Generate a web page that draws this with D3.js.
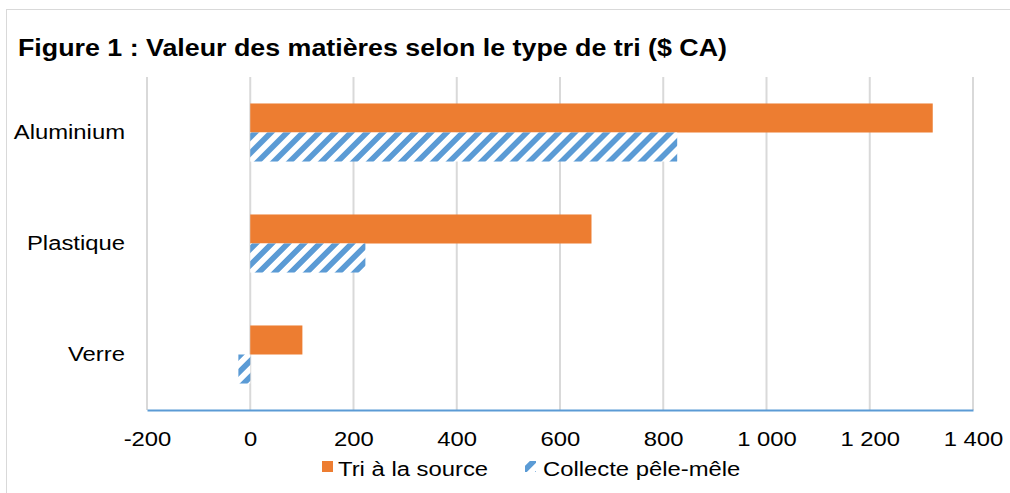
<!DOCTYPE html>
<html>
<head>
<meta charset="utf-8">
<script src="https://cdn.jsdelivr.net/npm/d3@7"></script>
<style>
  html, body { margin: 0; padding: 0; background: #fff; }
  svg { display: block; font-family: "Liberation Sans", Arial, sans-serif; }
</style>
</head>
<body>
<svg id="chart" width="1010" height="493"></svg>
<script>
const categories = ["Aluminium", "Plastique", "Verre"];
const seriesNames = ["Tri à la source", "Collecte pêle-mêle"];
const triSource = [1322, 661, 101];
const collecte = [827, 223, -23];
const tickValues = [-200, 0, 200, 400, 600, 800, 1000, 1200, 1400];
const tickLabels = ["-200", "0", "200", "400", "600", "800", "1 000", "1 200", "1 400"];
const titleText = "Figure 1 : Valeur des matières selon le type de tri ($ CA)";

const svg = d3.select("#chart");
const orange = "#ed7d31", blue = "#5b9bd5";
const FS = 21, SX = 1.135;
const FF = "Liberation Sans, Arial, sans-serif";

// hatch pattern
const defs = svg.append("defs");
const pat = defs.append("pattern")
  .attr("id", "hatch").attr("patternUnits", "userSpaceOnUse")
  .attr("width", 11.3).attr("height", 11.3)
  .attr("patternTransform", "rotate(45)");
pat.append("rect").attr("width", 11.3).attr("height", 11.3).attr("fill", "#fff");
pat.append("rect").attr("x", 0).attr("width", 5.65).attr("height", 11.3).attr("fill", blue);

// outer border
svg.append("rect").attr("x", 6.5).attr("y", 9.5).attr("width", 1010).attr("height", 500)
  .attr("fill", "none").attr("stroke", "#d9d9d9").attr("stroke-width", 1);

const x = d3.scaleLinear().domain([-200, 1400]).range([147, 973]);
const y = d3.scaleBand().domain(categories).range([77, 410]).paddingInner(0.477).paddingOuter(0.2385);
const sub = d3.scaleBand().domain(seriesNames).range([0, y.bandwidth()]);

// gridlines
svg.append("g").selectAll("line").data(tickValues).join("line")
  .attr("x1", d => x(d)).attr("x2", d => x(d))
  .attr("y1", 77).attr("y2", 410)
  .attr("stroke", "#d9d9d9").attr("stroke-width", 2);

// bars
const data = categories.map((c, i) => ({ c, vals: [triSource[i], collecte[i]] }));
const g = svg.append("g");
data.forEach(d => {
  d.vals.forEach((v, j) => {
    g.append("rect")
      .attr("x", x(Math.min(0, v)))
      .attr("y", y(d.c) + sub(seriesNames[j]))
      .attr("width", Math.abs(x(v) - x(0)))
      .attr("height", sub.bandwidth())
      .attr("fill", j === 0 ? orange : "url(#hatch)");
  });
});

// x axis
const xAxis = d3.axisBottom(x).tickValues(tickValues)
  .tickFormat((d, i) => tickLabels[i]).tickSize(0).tickPadding(0);
const ax = svg.append("g").attr("transform", "translate(0,410)").call(xAxis);
ax.select(".domain").attr("stroke", blue).attr("stroke-width", 2);
ax.selectAll("text").attr("font-size", FS).attr("fill", "#000").attr("font-family", FF)
  .attr("y", 0).attr("dy", 0)
  .attr("transform", `translate(0,36) scale(${SX},1)`);

// y axis labels
const yAxis = d3.axisLeft(y).tickSize(0).tickPadding(0);
const ay = svg.append("g").attr("transform", "translate(125,0)").call(yAxis);
ay.select(".domain").remove();
ay.selectAll("text").attr("font-size", FS).attr("fill", "#000").attr("font-family", FF)
  .attr("x", 0).attr("dy", "0.3em")
  .attr("transform", `scale(${SX},1)`);

// title
svg.append("text").attr("x", 18).attr("y", 56)
  .attr("font-size", 23).attr("font-weight", "bold").attr("fill", "#000")
  .attr("textLength", 709).attr("lengthAdjust", "spacingAndGlyphs")
  .text(titleText);

// legend
const leg = svg.append("g");
leg.append("rect").attr("x", 322).attr("y", 461).attr("width", 11).attr("height", 11).attr("fill", orange);
leg.append("text").attr("font-size", FS).attr("fill", "#000")
  .attr("transform", `translate(338,476) scale(${SX},1)`).text(seriesNames[0]);
leg.append("rect").attr("x", 525).attr("y", 461).attr("width", 11).attr("height", 11).attr("fill", "url(#hatch)");
leg.append("text").attr("font-size", FS).attr("fill", "#000")
  .attr("transform", `translate(543,476) scale(${SX},1)`).text(seriesNames[1]);
</script>
</body>
</html>
